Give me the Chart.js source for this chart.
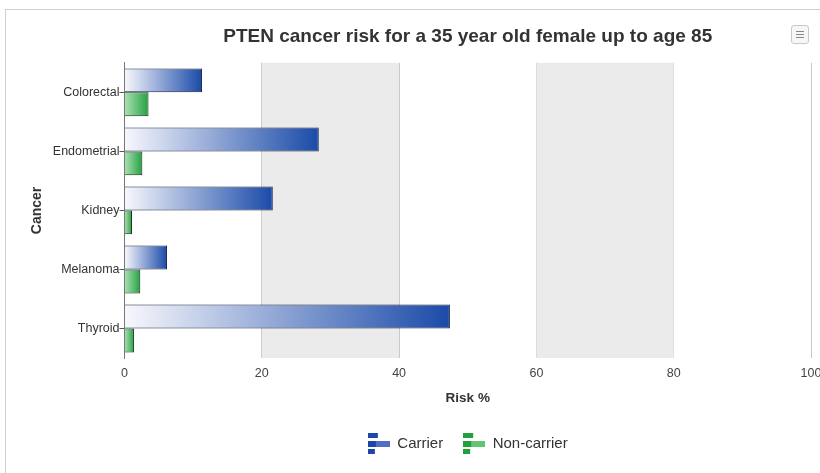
<!DOCTYPE html>
<html>
<head>
<meta charset="utf-8">
<script src="https://cdn.jsdelivr.net/npm/chart.js@4.4.1/dist/chart.umd.min.js"></script>
<style>
  html, body { margin: 0; padding: 0; background: #fff; overflow: hidden; width: 820px; height: 473px; }
  #frame { position: absolute; left: 5px; top: 9px; width: 1000px; height: 600px; border: 1px solid #cfcfcf; }
  #wrap { position: absolute; left: 8px; top: 10px; width: 948px; height: 463px; }
  #menu { position: absolute; left: 791px; top: 25px; width: 16px; height: 17px; border: 1px solid #c8c8c8; border-radius: 3px; background: #f7f7f7; }
  #menu span { position: absolute; left: 4px; width: 8px; height: 1px; background: #888; }
</style>
</head>
<body>
<div id="frame"></div>
<div id="wrap"><canvas id="chart_riesgo"></canvas></div>
<div id="menu"><span style="top:5px"></span><span style="top:8px"></span><span style="top:11px"></span></div>
<script>
// data
var categories = ["Colorectal", "Endometrial", "Kidney", "Melanoma", "Thyroid"];
var carrierRisk = [11.3, 28.3, 21.6, 6.2, 47.4];
var nonCarrierRisk = [3.5, 2.6, 1.1, 2.3, 1.4];
var riskTicks = [0, 20, 40, 60, 80, 100];

var azul_claro = "rgb(248, 248, 253)";
var azul = "rgb(26, 74, 168)";
var verde_claro = "rgb(170, 226, 178)";
var verde = "rgb(36, 160, 66)";

// gradient along each bar, from the axis to the bar end
function degradado(from, to) {
    return function (context) {
        var chart = context.chart;
        if (!chart.chartArea || context.raw === undefined) return to;
        var x = chart.scales.x;
        var x0 = x.getPixelForValue(0);
        var x1 = x.getPixelForValue(context.raw);
        if (x1 - x0 < 1) x1 = x0 + 1;
        var g = chart.ctx.createLinearGradient(x0, 0, x1, 0);
        g.addColorStop(0, from);
        g.addColorStop(1, to);
        return g;
    };
}

// small bar-chart glyph used in the legend
function iconoLeyenda(dark, light) {
    var c = document.createElement("canvas");
    c.width = 22;
    c.height = 21;
    var k = c.getContext("2d");
    k.fillStyle = dark;
    k.fillRect(0, 0, 10, 5);
    k.fillRect(0, 8, 8, 6);
    k.fillStyle = light;
    k.fillRect(8, 8, 14, 6);
    k.fillStyle = dark;
    k.fillRect(0, 16, 7, 5);
    return c;
}
var icono_carrier = iconoLeyenda("rgb(30, 70, 170)", "rgb(80, 110, 195)");
var icono_non = iconoLeyenda("rgb(34, 160, 62)", "rgb(100, 196, 112)");

// alternating grey bands between ticks
var bandas = {
    id: "bandas",
    beforeDatasetsDraw: function (chart) {
        var x = chart.scales.x;
        var area = chart.chartArea;
        var ctx = chart.ctx;
        ctx.save();
        ctx.fillStyle = "#ebebeb";
        for (var i = 1; i < x.ticks.length - 1; i += 2) {
            var a = x.getPixelForValue(x.ticks[i].value);
            var b = x.getPixelForValue(x.ticks[i + 1].value);
            ctx.fillRect(a, area.top, b - a, area.bottom - area.top);
        }
        ctx.restore();
    },
};

var ctx_riesgo = document.getElementById("chart_riesgo");
var chart_riesgo = new Chart(ctx_riesgo, {
    type: "bar",
    data: {
        labels: categories,
        datasets: [
            {
                label: "Carrier",
                data: carrierRisk,
                backgroundColor: degradado(azul_claro, azul),
                borderColor: "rgb(22, 28, 60)",
                borderWidth: 1,
            },
            {
                label: "Non-carrier",
                data: nonCarrierRisk,
                backgroundColor: degradado(verde_claro, verde),
                borderColor: "rgb(22, 40, 25)",
                borderWidth: 1,
            },
        ],
    },
    plugins: [bandas],
    options: {
        indexAxis: "y",
        responsive: true,
        maintainAspectRatio: false,
        animation: false,
        datasets: {
            bar: { categoryPercentage: 0.81, barPercentage: 1.0 },
        },
        layout: {
            padding: { left: 14, right: 145, top: 0, bottom: 12 },
        },
        scales: {
            x: {
                min: 0,
                max: 100,
                afterBuildTicks: function (scale) {
                    scale.ticks = riskTicks.map(function (v) { return { value: v }; });
                },
                grid: { color: "#c6c6c6", drawTicks: false, lineWidth: 1 },
                border: { display: false },
                ticks: {
                    padding: 9,
                    color: "#444",
                    font: { family: "Liberation Sans", size: 12.5, lineHeight: 1.1 },
                },
                title: {
                    display: true,
                    text: "Risk %",
                    color: "#333",
                    font: { family: "Liberation Sans", size: 13.5, weight: "bold" },
                    padding: { top: 0, bottom: 10 },
                },
            },
            y: {
                grid: {
                    offset: false,
                    drawOnChartArea: false,
                    drawTicks: true,
                    tickLength: 5,
                    color: "#555",
                },
                border: { display: true, color: "#777" },
                ticks: {
                    padding: 0,
                    color: "#333",
                    font: { family: "Liberation Sans", size: 12.5 },
                },
                title: {
                    display: true,
                    text: "Cancer",
                    color: "#333",
                    font: { family: "Liberation Sans", size: 14, weight: "bold" },
                    padding: { top: 7, bottom: 7 },
                },
            },
        },
        plugins: {
            title: {
                display: true,
                fullSize: false,
                text: "PTEN cancer risk for a 35 year old female up to age 85",
                color: "#333",
                font: { family: "Liberation Sans", size: 19, weight: "bold" },
                padding: { top: 15, bottom: 15 },
            },
            legend: {
                position: "bottom",
                fullSize: false,
                labels: {
                    usePointStyle: true,
                    pointStyleWidth: 22,
                    color: "#333",
                    font: { family: "Liberation Sans", size: 15 },
                    padding: 20,
                    generateLabels: function (chart) {
                        var iconos = [icono_carrier, icono_non];
                        return chart.data.datasets.map(function (ds, i) {
                            return {
                                text: ds.label,
                                pointStyle: iconos[i],
                                fillStyle: "transparent",
                                strokeStyle: "transparent",
                                lineWidth: 0,
                                fontColor: "#333",
                                hidden: !chart.isDatasetVisible(i),
                                datasetIndex: i,
                            };
                        });
                    },
                },
            },
            tooltip: { enabled: false },
        },
    },
});
</script>
</body>
</html>
